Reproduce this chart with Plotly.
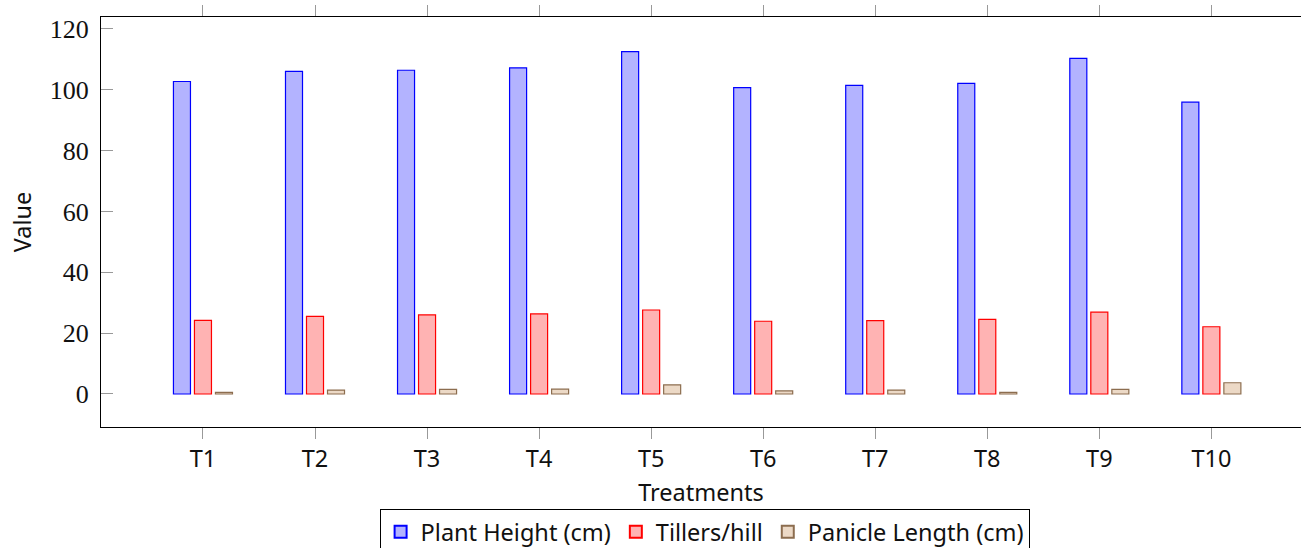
import plotly.graph_objects as go

treatments = ["T1", "T2", "T3", "T4", "T5", "T6", "T7", "T8", "T9", "T10"]
plant_height = [102.7, 106.0, 106.4, 107.2, 112.5, 100.7, 101.4, 102.1, 110.3, 95.9]
tillers_hill = [24.2, 25.5, 26.0, 26.3, 27.6, 23.9, 24.1, 24.5, 26.9, 22.1]
panicle_length = [0.5, 1.3, 1.5, 1.6, 3.0, 1.0, 1.3, 0.5, 1.5, 3.7]
y_ticks = [0, 20, 40, 60, 80, 100, 120]

series = [
    ("Plant Height (cm)", plant_height, "#b3b3ff", "#0000ff"),
    ("Tillers/hill", tillers_hill, "#ffb3b3", "#ff0000"),
    ("Panicle Length (cm)", panicle_length, "#ecd9c6", "#8c6d4f"),
]

fig = go.Figure()
for name, vals, fill, line in series:
    fig.add_trace(go.Bar(
        x=treatments, y=vals, name=name,
        marker=dict(color=fill, line=dict(color=line, width=1.2)),
    ))

sans = "Noto Sans"
fs = 23.5
fig.update_layout(
    width=1301, height=548,
    margin=dict(l=101, r=0, t=17, b=121, autoexpand=False),
    paper_bgcolor="white", plot_bgcolor="white",
    barmode="group", bargap=0.4375, bargroupgap=0.19,
    showlegend=True,
    legend=dict(
        orientation="h", x=0.503, xanchor="center", y=-0.2, yanchor="top",
        bordercolor="black", borderwidth=1,
        font=dict(family=sans, size=fs, color="#111"),
        itemsizing="constant", tracegroupgap=0,
    ),
    xaxis=dict(
        type="category", range=[-0.91, 9.80],
        showline=True, linecolor="black", linewidth=1.2, mirror="allticks",
        ticks="outside", ticklen=11, tickcolor="#999", tickwidth=1,
        ticklabelstandoff=0,
        showgrid=False, zeroline=False,
        tickfont=dict(family=sans, size=fs, color="#111"),
        title=dict(text="Treatments", font=dict(family=sans, size=fs, color="#111"), standoff=11),
    ),
    yaxis=dict(
        range=[-10.85, 123.9],
        tickvals=y_ticks,
        showline=True, linecolor="black", linewidth=1.2, mirror=False,
        ticks="inside", ticklen=12, tickcolor="#999", tickwidth=1,
        ticklabelstandoff=6,
        showgrid=False, zeroline=False,
        tickfont=dict(family="Liberation Serif", size=26, color="#111"),
        title=dict(text="Value", font=dict(family=sans, size=fs, color="#111"), standoff=11),
    ),
)

fig.write_html(
    "out.html",
    config={"displayModeBar": False},
    post_script="document.body.style.margin='0';document.body.style.overflow='hidden';",
)
